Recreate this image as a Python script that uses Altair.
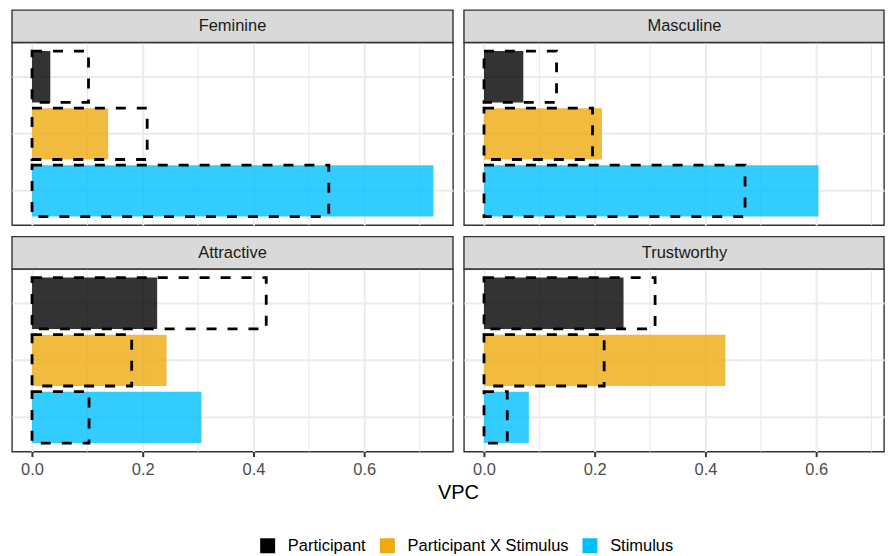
import altair as alt
import pandas as pd

# ---- data ----
components = ["Participant", "Participant X Stimulus", "Stimulus"]
colors = ["#000000", "#EEAA0F", "#00BFFF"]
panel_names = ["Feminine", "Masculine", "Attractive", "Trustworthy"]

feminine_vpc = [0.033, 0.1375, 0.725]
feminine_ref = [0.102, 0.208, 0.536]
masculine_vpc = [0.071, 0.213, 0.604]
masculine_ref = [0.131, 0.196, 0.4715]
attractive_vpc = [0.226, 0.243, 0.306]
attractive_ref = [0.423, 0.180, 0.103]
trustworthy_vpc = [0.252, 0.436, 0.081]
trustworthy_ref = [0.309, 0.217, 0.042]

x_major = [0.0, 0.2, 0.4, 0.6]
x_minor = [0.1, 0.3, 0.5, 0.7]
x_domain = [-0.0362, 0.7603]
x_title = "VPC"

W, H = 442, 183          # full panel size (left column)
W_R = 421                # right column is cropped at the window edge, as in the reference
STRIP = 32.5
FONT = 16.5


def panel(name, vpc, ref, bottom, width, with_title=False):
    df = pd.DataFrame({"component": components, "vpc": vpc, "ref": ref})
    x_hi = x_domain[0] + (x_domain[1] - x_domain[0]) * width / W
    xs = alt.Scale(domain=[x_domain[0], x_hi], nice=False, zero=False)
    ys = alt.Scale(domain=components, paddingInner=0.1, paddingOuter=0.15)
    xaxis = alt.Axis(
        values=x_major, format=".1f", grid=True, gridColor="#EBEBEB", gridWidth=2,
        domain=False, ticks=bottom, tickColor="#333333", tickSize=5, tickWidth=2,
        labels=bottom, labelFontSize=FONT, labelColor="#4D4D4D", labelPadding=5,
        title=None,
    )
    yaxis = alt.Axis(grid=True, gridColor="#EBEBEB", gridWidth=2, labels=False,
                     ticks=False, domain=False, title=None)
    minor = alt.Chart(pd.DataFrame({"m": x_minor})).mark_rule(
        color="#EBEBEB", strokeWidth=1.2
    ).encode(x=alt.X("m:Q", scale=xs, axis=xaxis))
    bars = alt.Chart(df).mark_bar(opacity=0.8).encode(
        x=alt.X("vpc:Q", scale=xs, axis=xaxis),
        x2=alt.datum(0),
        y=alt.Y("component:N", scale=ys, axis=yaxis, sort=components),
        color=alt.Color(
            "component:N",
            scale=alt.Scale(domain=components, range=colors),
            legend=alt.Legend(
                orient="none", legendX=248, legendY=496, direction="horizontal",
                title=None, symbolType="square", symbolSize=225, symbolStrokeWidth=0,
                symbolOpacity=1, labelFontSize=FONT, labelColor="black",
                labelOffset=12, columnPadding=13, padding=0, labelLimit=0,
            ),
        ),
    )
    dashed = alt.Chart(df).mark_bar(
        fillOpacity=0, stroke="black", strokeWidth=2.8, strokeDash=[10, 11]
    ).encode(
        x=alt.X("ref:Q", scale=xs, axis=xaxis),
        x2=alt.datum(0),
        y=alt.Y("component:N", scale=ys, axis=yaxis, sort=components),
    )
    strip_df = pd.DataFrame({"panel": [name]})
    strip_rect = alt.Chart(strip_df).mark_rect(
        fill="#D9D9D9", stroke="#333333", strokeWidth=1.4
    ).encode(x=alt.value(0), x2=alt.value(width), y=alt.value(-STRIP), y2=alt.value(0))
    strip_text = alt.Chart(strip_df).mark_text(
        fontSize=FONT, color="#1A1A1A", baseline="middle", align="center"
    ).encode(x=alt.value(W / 2), y=alt.value(-STRIP / 2), text="panel:N")
    layers = [minor, bars, dashed, strip_rect, strip_text]
    if with_title:
        t = alt.Chart(pd.DataFrame({"t": [x_title]})).mark_text(
            fontSize=20, color="black", baseline="middle", align="center"
        ).encode(x=alt.value(447.5), y=alt.value(224), text="t:N")
        layers.append(t)
    return alt.layer(*layers).properties(width=width, height=H)


p1 = panel(panel_names[0], feminine_vpc, feminine_ref, False, W)
p2 = panel(panel_names[1], masculine_vpc, masculine_ref, False, W_R)
p3 = panel(panel_names[2], attractive_vpc, attractive_ref, True, W, with_title=True)
p4 = panel(panel_names[3], trustworthy_vpc, trustworthy_ref, True, W_R)

chart = alt.concat(
    p1, p2, p3, p4, columns=2,
    spacing=alt.RowColnumber(row=44, column=11), bounds="flush",
).resolve_scale(
    x="independent", y="independent", color="shared"
).properties(
    padding={"left": 2, "top": 0, "right": 0, "bottom": 0},
    background="white",
).configure(
    font="Liberation Sans"
).configure_view(
    stroke="#333333", strokeWidth=1.4
)

chart.save("out.html", embed_options={"renderer": "svg", "actions": False})
